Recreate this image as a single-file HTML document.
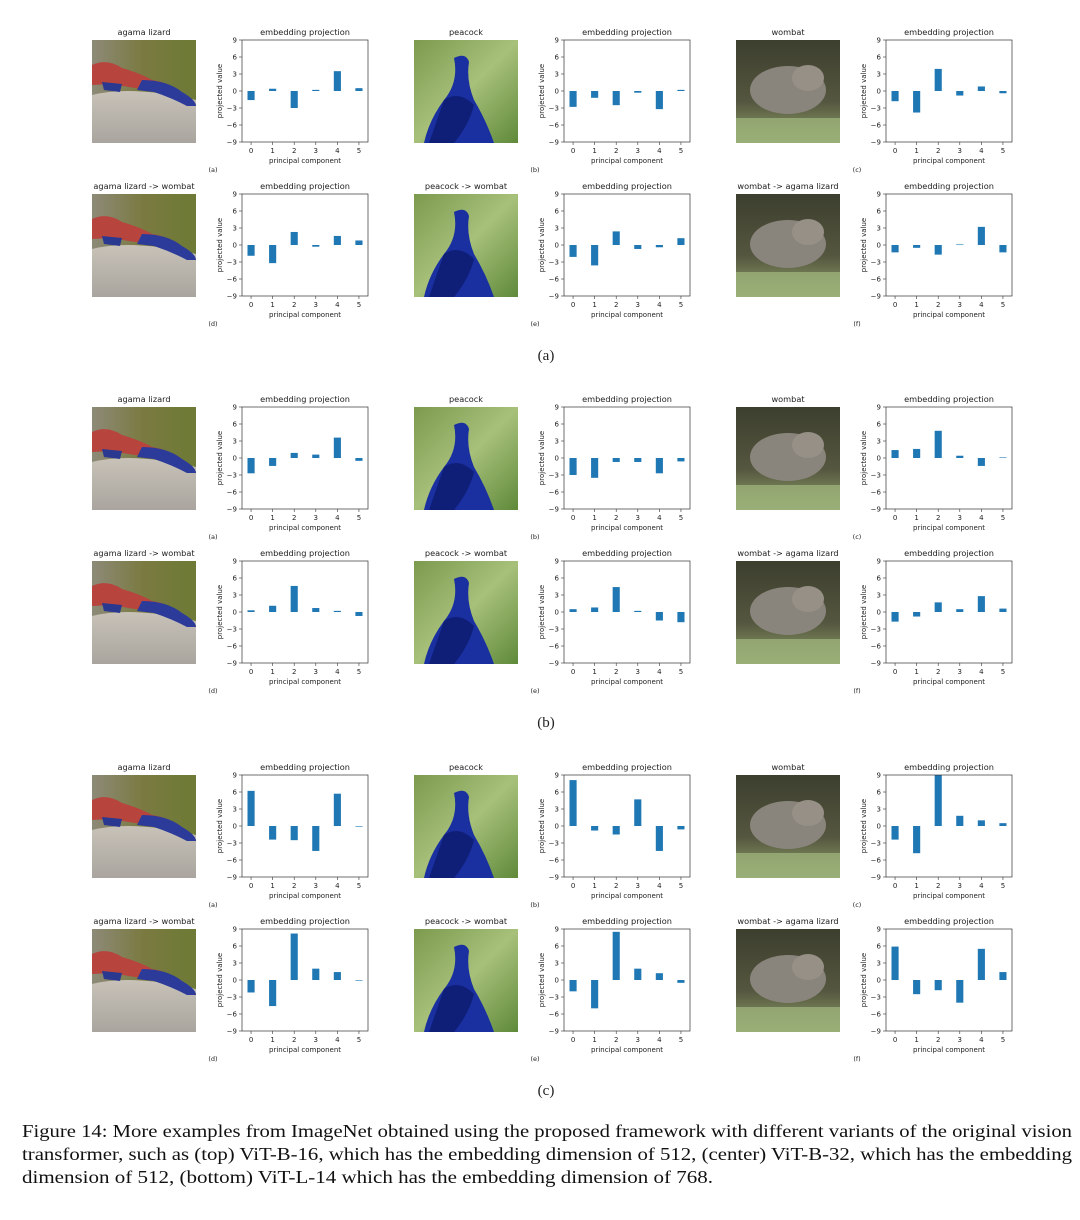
<!DOCTYPE html>
<html><head><meta charset="utf-8"><style>
html,body{margin:0;padding:0;background:#fff;width:1080px;height:1220px;overflow:hidden}
svg text{font-family:"DejaVu Sans","Liberation Sans",sans-serif;fill:#222}
.cap{font-family:"Liberation Serif",serif;font-size:17.5px;fill:#111}
</style></head><body>
<svg id="fig" width="1080" height="1220" viewBox="0 0 1080 1220" xmlns="http://www.w3.org/2000/svg">
<defs>
<linearGradient id="lzbg" x1="0" y1="0" x2="1" y2="0"><stop offset="0" stop-color="#8d8a78"/><stop offset="0.5" stop-color="#7a7a40"/><stop offset="1" stop-color="#6d7a35"/></linearGradient>
<linearGradient id="rock" x1="0" y1="0" x2="0" y2="1"><stop offset="0" stop-color="#c8c2b8"/><stop offset="1" stop-color="#a9a59e"/></linearGradient>
<linearGradient id="pcbg" x1="0" y1="0" x2="1" y2="1"><stop offset="0" stop-color="#7c9a4e"/><stop offset="0.5" stop-color="#a7c07a"/><stop offset="1" stop-color="#5f8a3a"/></linearGradient>
<linearGradient id="wbbg" x1="0" y1="0" x2="0" y2="1"><stop offset="0" stop-color="#3c3f2e"/><stop offset="0.6" stop-color="#55563f"/><stop offset="1" stop-color="#8fa46a"/></linearGradient>
</defs>
<g id="root"></g>
<text class="cap" x="22" y="1137" textLength="1050" lengthAdjust="spacingAndGlyphs">Figure 14: More examples from ImageNet obtained using the proposed framework with different variants of the original vision</text>
<text class="cap" x="22" y="1160" textLength="1050" lengthAdjust="spacingAndGlyphs">transformer, such as (top) ViT-B-16, which has the embedding dimension of 512, (center) ViT-B-32, which has the embedding</text>
<text class="cap" x="22" y="1183" textLength="691" lengthAdjust="spacingAndGlyphs">dimension of 512, (bottom) ViT-L-14 which has the embedding dimension of 768.</text>
</svg>
<script>
const categories = [0,1,2,3,4,5];
const yTicks = [-9,-6,-3,0,3,6,9];
const panelTitles = [["agama lizard","peacock","wombat"],["agama lizard -> wombat","peacock -> wombat","wombat -> agama lizard"]];
const subLabels = [["(a)","(b)","(c)"],["(d)","(e)","(f)"]];
const groupLabels = ["(a)","(b)","(c)"];
// values: group A (ViT-B-16)
const gA_a = [-1.6,0.4,-3.0,0.2,3.5,0.5];
const gA_b = [-2.8,-1.2,-2.5,-0.3,-3.2,0.2];
const gA_c = [-1.8,-3.8,3.9,-0.8,0.8,-0.4];
const gA_d = [-1.9,-3.2,2.3,-0.3,1.6,0.8];
const gA_e = [-2.1,-3.6,2.4,-0.7,-0.4,1.2];
const gA_f = [-1.3,-0.5,-1.7,0.1,3.2,-1.3];
// group B (ViT-B-32)
const gB_a = [-2.7,-1.4,0.9,0.6,3.6,-0.5];
const gB_b = [-3.0,-3.5,-0.7,-0.7,-2.7,-0.6];
const gB_c = [1.4,1.6,4.8,0.4,-1.4,0.1];
const gB_d = [0.3,1.1,4.6,0.7,0.2,-0.7];
const gB_e = [0.5,0.8,4.4,0.2,-1.5,-1.8];
const gB_f = [-1.7,-0.8,1.7,0.5,2.8,0.6];
// group C (ViT-L-14)
const gC_a = [6.2,-2.4,-2.5,-4.4,5.7,-0.1];
const gC_b = [8.1,-0.8,-1.5,4.7,-4.4,-0.6];
const gC_c = [-2.4,-4.8,9.0,1.8,1.0,0.5];
const gC_d = [-2.2,-4.6,8.2,2.0,1.4,-0.1];
const gC_e = [-2.0,-5.0,8.5,2.0,1.2,-0.5];
const gC_f = [5.9,-2.5,-1.8,-4.0,5.5,1.4];
const groups = [[[gA_a,gA_b,gA_c],[gA_d,gA_e,gA_f]],[[gB_a,gB_b,gB_c],[gB_d,gB_e,gB_f]],[[gC_a,gC_b,gC_c],[gC_d,gC_e,gC_f]]];

const NS="http://www.w3.org/2000/svg";
const root=document.getElementById('root');
function mk(tag,attrs,parent){const e=document.createElementNS(NS,tag);for(const k in attrs)e.setAttribute(k,attrs[k]);(parent||root).appendChild(e);return e;}
function txt(s,attrs,parent){const e=mk('text',attrs,parent);e.textContent=s;return e;}

function drawImage(g,kind,x,y){
  const w=104,h=103;
  const gi=mk('g',{transform:`translate(${x},${y})`},g);
  
  
  mk('clipPath',{id:'c'+x+'_'+y},gi).appendChild(document.createElementNS(NS,'rect')).setAttribute('width',w);
  gi.lastChild.firstChild.setAttribute('height',h);
  const c=mk('g',{'clip-path':`url(#c${x}_${y})`},gi);
  if(kind==='lizard'){
    mk('rect',{width:w,height:h,fill:'url(#lzbg)'},c);
    mk('path',{d:'M0 55 Q40 45 104 60 L104 103 L0 103Z',fill:'url(#rock)'},c);
    mk('path',{d:'M0 25 Q15 18 30 28 Q50 34 60 40 L70 42 L60 50 Q40 48 20 44 L0 45Z',fill:'#b8443e'},c);
    mk('path',{d:'M50 40 Q75 40 90 52 Q104 60 104 66 L95 66 Q80 58 62 52 L45 50Z',fill:'#2c3a9a'},c);
    mk('path',{d:'M10 42 L30 44 L28 52 L12 50Z',fill:'#2a3890'},c);
  } else if(kind==='peacock'){
    mk('rect',{width:w,height:h,fill:'url(#pcbg)'},c);
    mk('path',{d:'M40 18 Q52 12 55 22 Q52 40 60 60 Q72 80 80 103 L10 103 Q15 80 30 60 Q45 42 40 18Z',fill:'#1a2fa0'},c);
    mk('path',{d:'M30 60 Q45 50 60 65 Q55 85 40 103 L15 103Z',fill:'#0f1f78'},c);
  } else {
    mk('rect',{width:w,height:h,fill:'url(#wbbg)'},c);
    mk('ellipse',{cx:52,cy:50,rx:38,ry:24,fill:'#8a857c'},c);
    mk('ellipse',{cx:72,cy:38,rx:16,ry:13,fill:'#979087'},c);
    mk('rect',{x:0,y:78,width:w,height:25,fill:'#9cb27a',opacity:0.8},c);
  }
}

function drawChart(g,vals,x0,y0,name){
  const L=x0,R=x0+126,T=y0,B=y0+102;
  const xs=v=>L+(v+0.42)*((R-L)/5.84);
  const ys=v=>T+(9-v)*((B-T)/18);
  const cg=mk('g',{},g);
  
  
  const bw=0.33*((R-L)/5.84);
  vals.forEach((v,i)=>{
    const y1=ys(Math.max(v,0)),y2=ys(Math.min(v,0));
    const r=mk('rect',{x:xs(categories[i])-bw/2,y:y1,width:bw,height:Math.max(y2-y1,0.6),fill:'#1f77b4'},cg);
    
    
  });
  const fr=mk('rect',{x:L,y:T,width:R-L,height:B-T,fill:'none',stroke:'#333','stroke-width':0.7},cg);
  
  
  yTicks.forEach(t=>{
    mk('line',{x1:L-3,x2:L,y1:ys(t),y2:ys(t),stroke:'#333','stroke-width':0.6},cg);
    const tl=txt((t<0?'\u2212'+(-t):''+t),{x:L-5,y:ys(t)+2.5,'font-size':7,'text-anchor':'end'},cg);
    
    
  });
  categories.forEach(c=>{
    mk('line',{x1:xs(c),x2:xs(c),y1:B,y2:B+3,stroke:'#333','stroke-width':0.6},cg);
    const tl=txt(''+c,{x:xs(c),y:B+11,'font-size':7,'text-anchor':'middle'},cg);
    
    
  });
  const tt=txt('embedding projection',{x:(L+R)/2,y:T-5,'font-size':8.2,'text-anchor':'middle'},cg);
  
  
  const xt=txt('principal component',{x:(L+R)/2,y:B+21,'font-size':7,'text-anchor':'middle'},cg);
  
  
  const yt=txt('projected value',{x:0,y:0,'font-size':7,'text-anchor':'middle',transform:`translate(${L-20},${(T+B)/2}) rotate(-90)`},cg);
  
  
}

const groupTop=[40,407,775];
const colOff=[0,322,644];
const kinds=[['lizard','peacock','wombat'],['lizard','peacock','wombat']];
groups.forEach((grp,gi)=>{
  const g=mk('g',{});
  
  
  grp.forEach((row,ri)=>{
    const top=groupTop[gi]+ri*154;
    row.forEach((vals,ci)=>{
      const ox=colOff[ci];
      const it=txt(panelTitles[ri][ci],{x:144+ox,y:top-5,'font-size':8.2,'text-anchor':'middle'},g);
      
      
      drawImage(g,kinds[ri][ci],92+ox,top);
      drawChart(g,vals,242+ox,top,'chart-'+'abc'[gi]+'-'+subLabels[ri][ci].replace(/[()]/g,''));
      const sl=txt(subLabels[ri][ci],{x:213+ox,y:top+132,'font-size':6.5,'text-anchor':'middle'},g);
      
      
    });
  });
  const gl=mk('text',{x:546,y:groupTop[gi]+320,'font-size':15,'text-anchor':'middle',style:'font-family:"Liberation Serif",serif'},g);
  gl.textContent=groupLabels[gi];
  
  
});
</script>
</body></html>
